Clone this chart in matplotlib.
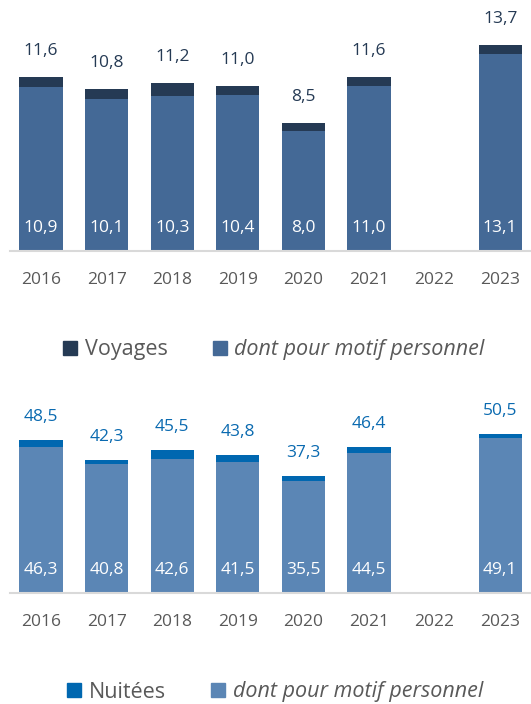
import numpy as np
import matplotlib
matplotlib.use("Agg")
import matplotlib.pyplot as plt
from matplotlib.patches import Patch

plt.rcParams['font.family'] = ['Open Sans', 'DejaVu Sans']

years = ['2016', '2017', '2018', '2019', '2020', '2021', '2022', '2023']
voyages = [11.6, 10.8, 11.2, 11.0, 8.5, 11.6, np.nan, 13.7]
voyages_perso = [10.9, 10.1, 10.3, 10.4, 8.0, 11.0, np.nan, 13.1]
nuitees = [48.5, 42.3, 45.5, 43.8, 37.3, 46.4, np.nan, 50.5]
nuitees_perso = [46.3, 40.8, 42.6, 41.5, 35.5, 44.5, np.nan, 49.1]

def fmt(v):
    return f"{v:.1f}".replace('.', ',')

W, H = 531, 704
fig = plt.figure(figsize=(W / 100, H / 100), dpi=100)

def panel(top_px, base_px, ymax, total, perso, c_total, c_perso, c_label, label_off, inner_off):
    ax = fig.add_axes([10 / W, (H - base_px) / H, 521 / W, (base_px - top_px) / H])
    x = np.arange(len(years))
    ax.bar(x, total, width=0.66, color=c_total)
    ax.bar(x, perso, width=0.66, color=c_perso)
    ax.set_xlim(-0.4726, 7.47)
    ax.set_ylim(0, ymax)
    for i in range(len(years)):
        if np.isnan(total[i]):
            continue
        ax.annotate(fmt(total[i]), (x[i], total[i]), xytext=(0, label_off), textcoords='offset pixels',
                    ha='center', va='center', fontsize=12.5, color=c_label)
        ax.annotate(fmt(perso[i]), (x[i], 0), xytext=(0, inner_off), textcoords='offset pixels',
                    ha='center', va='center', fontsize=12.5, color='white')
    for s in ['top', 'right', 'left']:
        ax.spines[s].set_visible(False)
    ax.spines['bottom'].set_color('#d9d9d9')
    ax.spines['bottom'].set_linewidth(1.5)
    ax.set_yticks([])
    ax.set_xticks(x)
    ax.set_xticklabels(years, fontsize=12.5, color='#595959')
    ax.tick_params(axis='x', length=0, pad=15)
    return ax

panel(0, 251, 251 / 15.04, voyages, voyages_perso, '#253a54', '#446996', '#253a54', 26, 23)
panel(380, 593, 213 / 3.15, nuitees, nuitees_perso, '#0067b0', '#5b86b5', '#0a6ab0', 23, 23)

def legend(y_px, label, c1, c2, x_px):
    h = [Patch(color=c1), Patch(color=c2)]
    leg = fig.legend(h, [label, 'dont pour motif personnel'], loc='center',
                     bbox_to_anchor=(x_px / W, 1 - y_px / H), ncol=2, frameon=False,
                     handlelength=0.65, handleheight=0.65, handletextpad=0.35,
                     columnspacing=2.1, fontsize=15.5)
    for t in leg.get_texts():
        t.set_color('#595959')
    leg.get_texts()[1].set_style('italic')

legend(350, 'Voyages', '#253a54', '#446996', 274)
legend(692, 'Nuitées', '#0067b0', '#5b86b5', 275)

fig.savefig('out.png', dpi=100)
